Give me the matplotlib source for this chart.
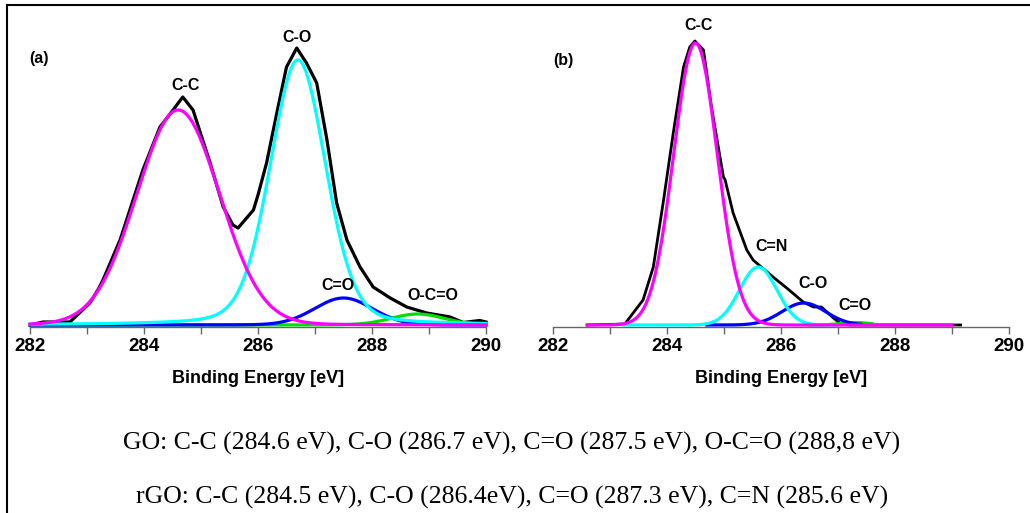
import numpy as np
import matplotlib
matplotlib.use("Agg")
import matplotlib.pyplot as plt
from matplotlib.lines import Line2D
from matplotlib.ticker import MultipleLocator

# measured C 1s envelope, GO
go_energy = [282.0, 282.23, 282.7, 283.05, 283.2, 283.28, 283.58, 283.98, 284.28, 284.51,
             284.68, 284.86, 285.16, 285.39, 285.56, 285.65, 285.92, 286.0, 286.15, 286.33,
             286.5, 286.68, 286.85, 287.03, 287.21, 287.38, 287.56, 287.79, 288.02, 288.32,
             288.61, 288.96, 289.37, 289.6, 289.89, 290.0]
go_counts = [0, 3, 3, 22, 36, 45, 85, 155, 198, 215,
             228, 215, 162, 118, 100, 97, 115, 130, 162, 212,
             258, 277, 262, 242, 185, 122, 85, 58, 38, 27,
             18, 12, 8, 2.5, 4.5, 3]

# measured C 1s envelope, rGO
rgo_energy = [282.6, 283.26, 283.58, 283.76, 283.94, 284.11, 284.29, 284.4, 284.49, 284.64,
              284.78, 284.99, 285.02, 285.16, 285.4, 285.51, 285.86, 286.1, 286.39, 286.57,
              286.71, 286.92, 287.03, 287.2, 289.15]
rgo_counts = [0, 1, 25, 58, 125, 192, 258, 278, 284, 275,
              218, 148, 145, 112, 75, 65, 48, 37, 23, 18,
              18, 7, 2, 0, 0]

# fitted components (centre eV, height, FWHM eV, lorentz fraction, drawn range)
go_names = ["C-C", "C-O", "C=O", "O-C=O"]
go_centres = [284.6, 286.7, 287.5, 288.8]
go_heights = [215, 265, 27, 11]
go_fwhm = [1.72, 1.15, 1.2, 1.1]
go_eta = [0.03, 0.2, 0.05, 0.1]
go_ranges = [(282.0, 290.0), (282.0, 290.0), (282.0, 290.0), (282.0, 290.0)]

rgo_names = ["C-C", "C=N", "C-O", "C=O"]
rgo_centres = [284.5, 285.6, 286.4, 287.3]
rgo_heights = [282, 58, 22, 2.5]
rgo_fwhm = [0.9, 0.77, 0.9, 0.6]
rgo_eta = [0.0, 0.0, 0.0, 0.0]
rgo_ranges = [(282.6, 289.0), (283.25, 287.0), (284.7, 287.4), (286.5, 287.6)]

go_colors = {"C-C": "#ff00ff", "C-O": "#00ffff", "C=O": "#0000ff", "O-C=O": "#00e000"}
go_z = {"C-C": 6, "C-O": 5, "C=O": 4, "O-C=O": 3}
# in rGO the blue one is C-O and the small green one is C=O
rgo_colors = {"C-C": "#ff00ff", "C=N": "#00ffff", "C-O": "#0000ff", "C=O": "#00e000"}
rgo_z = {"C-C": 6, "C=N": 5, "C-O": 4, "C=O": 3}

captions = ["GO: C-C (284.6 eV), C-O (286.7 eV), C=O (287.5 eV), O-C=O (288,8 eV)",
            "rGO: C-C (284.5 eV), C-O (286.4eV), C=O (287.3 eV), C=N (285.6 eV)"]


def pvoigt(x, c, h, w, eta):
    g = np.exp(-4 * np.log(2) * ((x - c) / w) ** 2)
    l = 1 / (1 + 4 * ((x - c) / w) ** 2)
    return h * ((1 - eta) * g + eta * l)


W, H = 1030, 513
fig = plt.figure(figsize=(W / 100, H / 100), dpi=100)
fig.patch.set_facecolor("white")
bold = dict(family="Liberation Sans", weight="bold")


def setup(ax):
    ax.set_xlim(282, 290)
    ax.set_ylim(-2, 320)
    for s in ["top", "left", "right"]:
        ax.spines[s].set_visible(False)
    ax.spines["bottom"].set_color("#666666")
    ax.spines["bottom"].set_linewidth(1.0)
    ax.set_yticks([])
    ax.xaxis.set_major_locator(MultipleLocator(2))
    ax.xaxis.set_minor_locator(MultipleLocator(1))
    ax.tick_params(axis="x", which="both", direction="out", length=5, width=1,
                   color="#666666", pad=3)
    for t in ax.get_xticklabels():
        t.set_fontfamily("Liberation Sans")
        t.set_fontweight("bold")
        t.set_fontsize(13.5)
    ax.set_xlabel("Binding Energy [eV]", fontsize=13, labelpad=11, **bold)


ax_a = fig.add_axes([30 / W, (H - 327) / H, 456 / W, 322 / H])
ax_b = fig.add_axes([553 / W, (H - 327) / H, 456 / W, 322 / H])
setup(ax_a)
setup(ax_b)

# GO
ax_a.plot(go_energy, go_counts, color="black", lw=2.3, zorder=2, clip_on=False)
for n, c, h, w, e, r in zip(go_names, go_centres, go_heights, go_fwhm, go_eta, go_ranges):
    x = np.linspace(r[0], r[1], 600)
    ax_a.plot(x, pvoigt(x, c, h, w, e), color=go_colors[n], lw=2.3,
              zorder=go_z[n], clip_on=False)

# rGO
ax_b.plot(rgo_energy, rgo_counts, color="black", lw=2.0, zorder=2, clip_on=False)
for n, c, h, w, e, r in zip(rgo_names, rgo_centres, rgo_heights, rgo_fwhm, rgo_eta, rgo_ranges):
    x = np.linspace(r[0], r[1], 600)
    ax_b.plot(x, pvoigt(x, c, h, w, e), color=rgo_colors[n], lw=2.3,
              zorder=rgo_z[n], clip_on=False)


# peak labels, placed in pixel positions of the figure
def fig_text(px, py, s, size=11.5, **kw):
    fig.text(px / W, 1 - py / H, s, fontsize=size, ha="center", va="center", **bold, **kw)


fig_text(39, 59, "(a)")
fig_text(186, 85, "C-C")
fig_text(297, 37, "C-O")
fig_text(338, 285, "C=O")
fig_text(433, 295, "O-C=O")

fig_text(563, 60, "(b)")
fig_text(699, 26, "C-C")
fig_text(772, 247, "C=N")
fig_text(813, 283, "C-O")
fig_text(855, 306, "C=O")

fig.text(512 / W, 1 - 443 / H, captions[0], fontsize=18.5, ha="center", va="center",
         family="Liberation Serif")
fig.text(512 / W, 1 - 497 / H, captions[1], fontsize=18.5, ha="center", va="center",
         family="Liberation Serif")

# frame lines on the left and top
fig.add_artist(Line2D([7 / W, 7 / W], [0, 1 - 5 / H], color="black", lw=1.5,
                      transform=fig.transFigure))
fig.add_artist(Line2D([7 / W, 1.0], [1 - 5 / H, 1 - 5 / H], color="black", lw=1.5,
                      transform=fig.transFigure))

fig.savefig("out.png", dpi=100)
